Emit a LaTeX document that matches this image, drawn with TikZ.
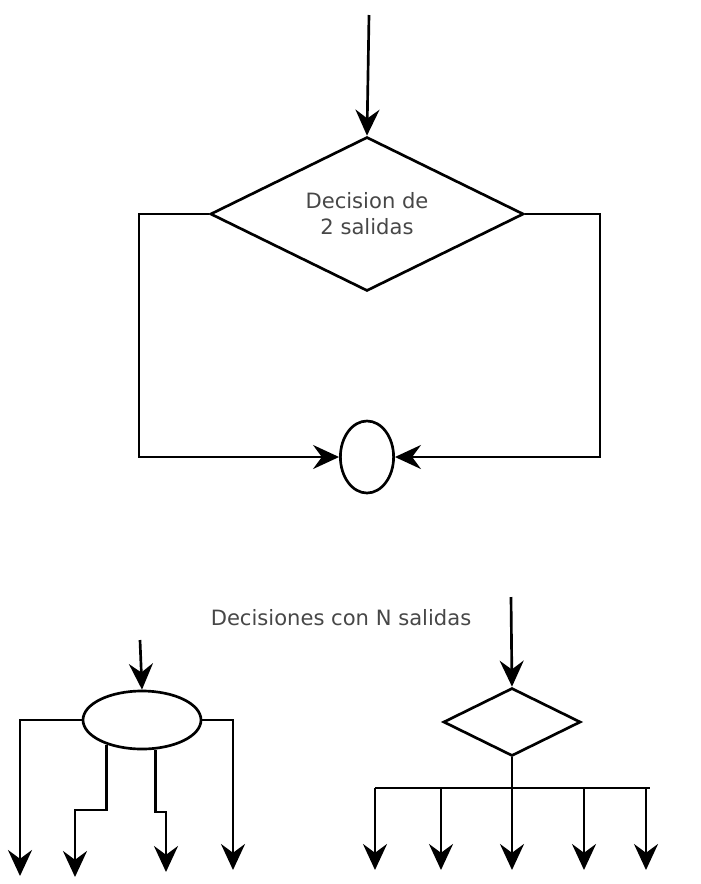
\documentclass[tikz,border=0pt]{standalone}
\usepackage{fontspec}
\setmainfont{DejaVu Sans}
\usetikzlibrary{arrows.meta,shapes.geometric}

\tikzset{
  arr/.style={-{Stealth[length=6.5mm,width=6mm,inset=2.2mm]}},
  decbox/.style={draw,diamond,aspect=2,inner sep=0pt,align=center},
  joinbox/.style={draw,ellipse,inner sep=0pt},
  lbl/.style={text=black!72,font=\fontsize{15}{18.5}\selectfont}
}

\begin{document}
\begin{tikzpicture}[x=0.025cm,y=-0.025cm,line width=1.9pt]
 \useasboundingbox (0,0) rectangle (700,884);
 % two exits
 \begin{scope}
  \node[decbox,minimum width=7.83cm,minimum height=3.85cm,lbl] (dec2) at (367,214) {Decision de\\2 salidas};
  \node[joinbox,minimum width=1.33cm,minimum height=1.8cm] (join) at (367,457) {};
  \coordinate (in2) at (369,15);
  \coordinate (left2) at (139,214);
  \coordinate (right2) at (600,214);
  \draw[arr] (in2) -- (dec2.north);
  \draw[arr] (dec2.west) -- (left2) |- (join.west);
  \draw[arr] (dec2.east) -- (right2) |- (join.east);
 \end{scope}
 \node[lbl] (title) at (341,618) {Decisiones con N salidas};
 % N exits, ellipse
 \begin{scope}
  \node[joinbox,minimum width=2.95cm,minimum height=1.45cm] (multi) at (142,720) {};
  \coordinate (inm) at (140,640);
  \coordinate (o1) at (20,876);
  \coordinate (o2) at (75,877);
  \coordinate (o3) at (166,872);
  \coordinate (o4) at (233,870);
  \draw[arr] (inm) -- (multi.north);
  \draw[arr] (multi.west) -| (o1);
  \draw[arr] (multi.215) |- (75,810) -- (o2);
  \draw[arr] (multi.295) |- (166,812) -- (o3);
  \draw[arr] (multi.east) -| (o4);
 \end{scope}
 % N exits, diamond
 \begin{scope}
  \node[decbox,minimum width=3.43cm,minimum height=1.7cm] (ndec) at (512,722) {};
  \coordinate (inn) at (511,597);
  \coordinate (bus) at (512,788);
  \coordinate (busl) at (375,788);
  \coordinate (busr) at (650,788);
  \draw[arr] (inn) -- (ndec.north);
  \draw (ndec.south) -- (bus);
  \draw (busl) -- (busr);
  \foreach \x in {375,441,512,584,646}
   \draw[arr] (\x,788) -- (\x,870);
 \end{scope}
\end{tikzpicture}
\end{document}
